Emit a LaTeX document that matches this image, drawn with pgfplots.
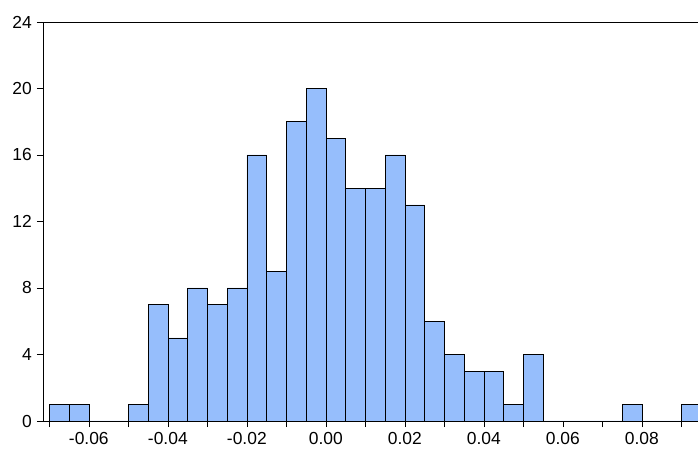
\documentclass[border=0pt]{standalone}
\usepackage{fontspec}
\setmainfont{Liberation Sans}
\usepackage{pgfplots}
\pgfplotsset{compat=1.18}
\definecolor{barblue}{RGB}{150,190,252}
\begin{document}
\begin{tikzpicture}
\begin{axis}[
  scale only axis,
  width=655bp, height=399bp,
  xmin=-0.0716, xmax=0.0942,
  ymin=0, ymax=24,
  axis x line*=bottom,
  axis y line*=left,
  axis line style={black, line width=0.8pt},
  scaled x ticks=false,
  xtick={-0.06,-0.04,-0.02,0,0.02,0.04,0.06,0.08},
  xticklabels={-0.06,-0.04,-0.02,0.00,0.02,0.04,0.06,0.08},
  minor xtick={-0.07,-0.05,-0.03,-0.01,0.01,0.03,0.05,0.07,0.09},
  ytick={0,4,8,12,16,20,24},
  tick align=outside,
  major tick length=6bp,
  minor tick length=6bp,
  tick style={black, line width=0.6pt},
  tick label style={font=\fontsize{17.5}{18}\selectfont, inner sep=1bp},
  xticklabel style={yshift=-4bp},
  yticklabel style={xshift=-4bp},
  /pgf/number format/assume math mode=true,
  clip=true,
]
\addplot[ybar interval, fill=barblue, draw=black, line width=0.6pt] coordinates {
(-0.070,1) (-0.065,1) (-0.060,0) (-0.055,0) (-0.050,1) (-0.045,7) (-0.040,5)
(-0.035,8) (-0.030,7) (-0.025,8) (-0.020,16) (-0.015,9) (-0.010,18) (-0.005,20)
(0.000,17) (0.005,14) (0.010,14) (0.015,16) (0.020,13) (0.025,6) (0.030,4)
(0.035,3) (0.040,3) (0.045,1) (0.050,4) (0.055,0) (0.060,0) (0.065,0) (0.070,0)
(0.075,1) (0.080,0) (0.085,0) (0.090,1) (0.095,1)
};
\draw[black, line width=0.8pt] (rel axis cs:0,1) -- (rel axis cs:1,1);
\end{axis}
\pgfresetboundingbox
\path (-43bp,-29bp) rectangle (655bp,421bp);
\end{tikzpicture}
\end{document}
